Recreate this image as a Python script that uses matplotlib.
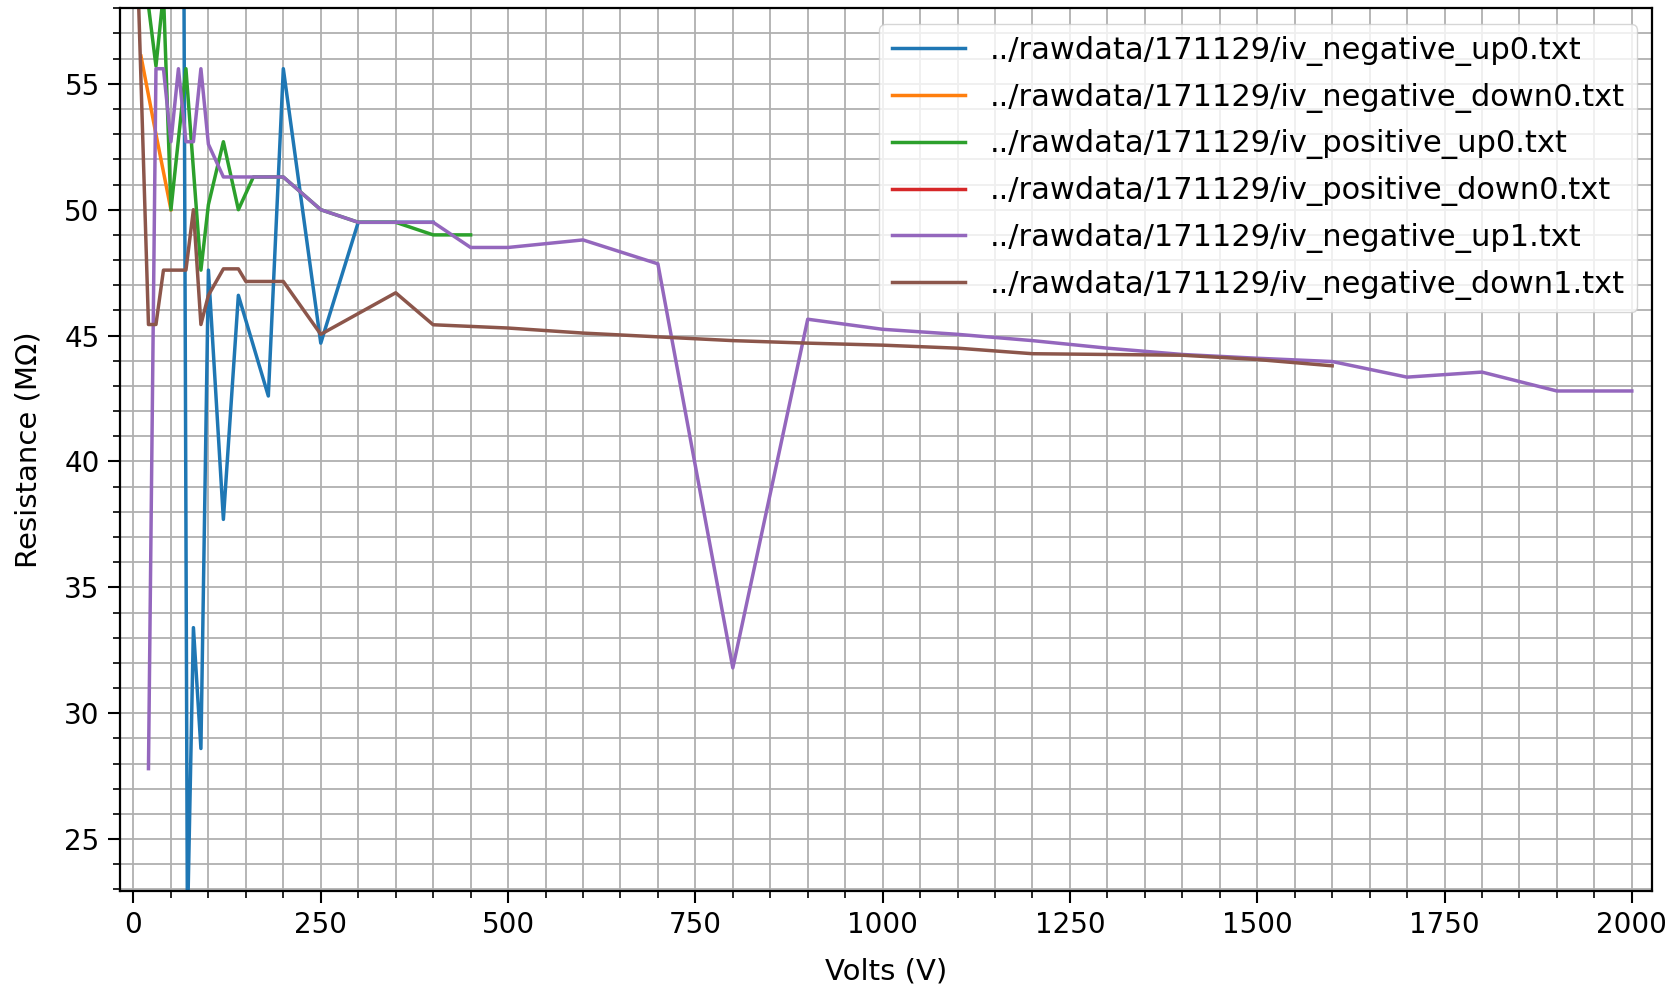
from matplotlib import pyplot as plt

files = ['../rawdata/171129/iv_negative_up0.txt',
         '../rawdata/171129/iv_negative_down0.txt',
         '../rawdata/171129/iv_positive_up0.txt',
         '../rawdata/171129/iv_positive_down0.txt',
         '../rawdata/171129/iv_negative_up1.txt',
         '../rawdata/171129/iv_negative_down1.txt']

# volts / resistance (MOhm)
neg_up0_v = [66, 72, 80, 90, 100, 120, 140, 180, 200, 250, 300, 350, 400]
neg_up0_r = [70.0, 21.5, 33.4, 28.6, 47.6, 37.7, 46.6, 42.6, 55.6, 44.7, 49.5, 49.5, 49.5]

neg_down0_v = [10, 30, 50]
neg_down0_r = [56.1, 53.0, 50.0]

pos_up0_v = [10, 30, 40, 50, 70, 90, 100, 120, 140, 160, 200, 250, 300, 350, 400, 450]
pos_up0_r = [60.5, 55.7, 58.6, 50.0, 55.6, 47.6, 50.2, 52.7, 50.0, 51.3, 51.3, 50.0, 49.5, 49.5, 49.0, 49.0]

pos_down0_v = [0, 10]
pos_down0_r = [62.0, 60.0]

neg_up1_v = [20, 30, 40, 50, 60, 70, 80, 90, 100, 120, 200, 250, 300, 400, 450, 500, 600, 700, 800,
             900, 1000, 1100, 1200, 1300, 1400, 1500, 1600, 1700, 1800, 1900, 2000]
neg_up1_r = [27.8, 55.6, 55.6, 52.7, 55.6, 52.7, 52.7, 55.6, 52.6, 51.3, 51.3, 50.0, 49.5, 49.5, 48.5, 48.5,
             48.8, 47.85, 31.8, 45.65, 45.25, 45.05, 44.8, 44.5, 44.25, 44.1, 43.97, 43.35, 43.55, 42.8, 42.8]

neg_down1_v = [5, 20, 30, 40, 70, 80, 90, 100, 120, 140, 150, 200, 250, 350, 400, 500, 600, 700, 800,
               900, 1000, 1100, 1200, 1300, 1400, 1500, 1600]
neg_down1_r = [60.0, 45.44, 45.44, 47.6, 47.6, 50.0, 45.44, 46.6, 47.65, 47.65, 47.15, 47.15, 45.05, 46.7,
               45.43, 45.3, 45.1, 44.95, 44.8, 44.7, 44.62, 44.5, 44.28, 44.25, 44.22, 44.05, 43.8]

xs = [neg_up0_v, neg_down0_v, pos_up0_v, pos_down0_v, neg_up1_v, neg_down1_v]
ys = [neg_up0_r, neg_down0_r, pos_up0_r, pos_down0_r, neg_up1_r, neg_down1_r]

plt.rcParams['font.size'] = 20
fig = plt.figure(figsize=(16.76, 9.86), dpi=100)
ax = fig.add_axes([0.0716, 0.0966, 0.9141, 0.8950])

for x, y, name in zip(xs, ys, files):
    ax.plot(x, y, lw=2.5, label=name)

ax.set_xlim(-18, 2027)
ax.set_ylim(22.95, 58.0)
ax.minorticks_on()
ax.grid(which='both', color='#b0b0b0', lw=1.3)
ax.tick_params(which='major', length=8.6, width=1.5, pad=6, labelsize=20)
ax.tick_params(which='minor', length=4.7, width=1.2)
for s in ax.spines.values():
    s.set_linewidth(1.6)

ax.set_xlabel('Volts (V)', fontsize=21, labelpad=13)
ax.set_ylabel('Resistance (M\u03a9)', fontsize=21, labelpad=16)
ax.legend(loc='upper right', fontsize=22, handlelength=2.4, borderaxespad=0.5,
          labelspacing=0.55)

plt.savefig('out.png', dpi=100)
